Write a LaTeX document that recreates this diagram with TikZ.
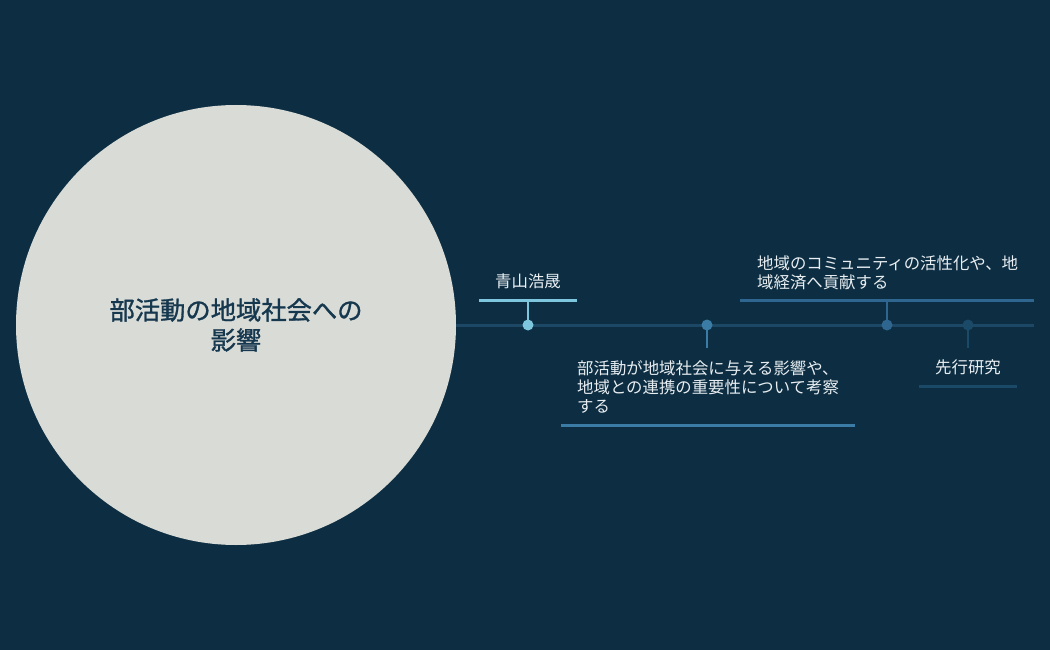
\documentclass[tikz,border=0pt]{standalone}
\usepackage{fontspec}
\newfontfamily\cjk{Noto Sans CJK JP}
\newfontfamily\cjkm[FakeBold=1.2]{Noto Sans CJK JP}
\definecolor{bgc}{HTML}{0D2E42}
\definecolor{circc}{HTML}{D9DBD7}
\definecolor{axisc}{HTML}{1D4865}
\definecolor{cone}{HTML}{7EC5DE}
\definecolor{ctwo}{HTML}{3A7CA5}
\definecolor{cthree}{HTML}{2F6690}
\definecolor{cfour}{HTML}{1B4A68}
\definecolor{titlec}{HTML}{16384F}
\definecolor{labelc}{HTML}{E8EEF2}
\tikzset{
  bar/.style={line width=3pt},
  stem/.style={line width=2.5pt},
  dot/.style={circle, inner sep=0pt, minimum size=11pt},
  lbl/.style={text=labelc, font=\cjk\fontsize{16.4}{19}\selectfont, inner sep=0pt, align=left},
}
\begin{document}
\begin{tikzpicture}[x=1pt,y=-1pt]
\fill[bgc] (0,0) rectangle (1050,650);
\useasboundingbox (0,0) rectangle (1050,650);
% main circle
\node[circle, fill=circc, minimum size=440pt, inner sep=0pt] (hub) at (236,325) {};
\node[text=titlec, font=\cjkm\fontsize{25.3}{30}\selectfont, align=center, inner sep=0pt] (title) at (236,325) {部活動の地域社会への\\影響};
% axis
\coordinate (axend) at (1034,325);
\draw[axisc, line width=3pt] (hub.east) -- (axend);
% item 1
\node[dot, fill=cone] (d1) at (528,325) {};
\coordinate (b1l) at (479,300);
\coordinate (b1r) at (577,300);
\coordinate (s1) at (528,300);
\draw[cone, bar] (b1l) -- (b1r);
\draw[cone, stem] (s1) -- (d1.center);
\node[lbl] (t1) at (528,281) {青山浩晟};
% item 2
\node[dot, fill=ctwo] (d2) at (707,325) {};
\coordinate (s2) at (707,348);
\draw[ctwo, stem] (d2.center) -- (s2);
\coordinate (b2l) at (561,425);
\coordinate (b2r) at (855,425);
\draw[ctwo, bar] (b2l) -- (b2r);
\node[lbl, anchor=north west] (t2) at (577,360.5) {部活動が地域社会に与える影響や、\\地域との連携の重要性について考察\\する};
% item 3
\node[dot, fill=cthree] (d3) at (887,325) {};
\coordinate (s3) at (887,300);
\draw[cthree, stem] (s3) -- (d3.center);
\coordinate (b3l) at (740,300);
\coordinate (b3r) at (1034,300);
\draw[cthree, bar] (b3l) -- (b3r);
\node[lbl, anchor=north west] (t3) at (757,255.5) {地域のコミュニティの活性化や、地\\域経済へ貢献する};
% item 4
\node[dot, fill=cfour] (d4) at (968,325) {};
\coordinate (s4) at (968,348);
\draw[cfour, stem] (d4.center) -- (s4);
\coordinate (b4l) at (919,386);
\coordinate (b4r) at (1017,386);
\draw[cfour, bar] (b4l) -- (b4r);
\node[lbl] (t4) at (968,367) {先行研究};
\end{tikzpicture}
\end{document}
